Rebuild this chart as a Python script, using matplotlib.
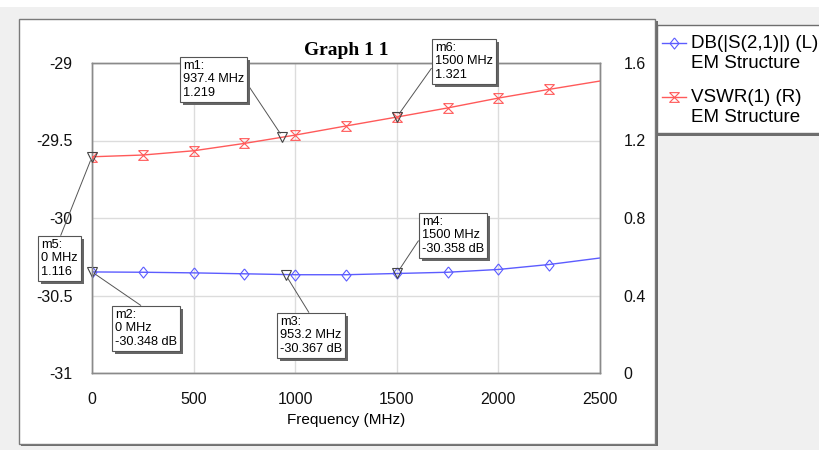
import numpy as np
import matplotlib.pyplot as plt
from matplotlib.patches import Rectangle
from matplotlib.lines import Line2D
from matplotlib.ticker import FuncFormatter
import matplotlib.patheffects as pe

plt.rcParams['font.family'] = ['Liberation Sans', 'DejaVu Sans']
plt.rcParams['axes.unicode_minus'] = False

# sweep points (MHz) and traces
freq = [0, 250, 500, 750, 1000, 1250, 1500, 1750, 2000, 2250, 2500]
s21_db = [-30.348, -30.350, -30.354, -30.360, -30.366, -30.366, -30.358,
          -30.350, -30.332, -30.300, -30.258]
vswr = [1.116, 1.125, 1.147, 1.185, 1.228, 1.275, 1.321, 1.368, 1.419,
        1.464, 1.507]

# markers: name, freq, value
markers_vswr = [("m1", 937.4, 1.219), ("m6", 1500, 1.321), ("m5", 0, 1.116)]
markers_db = [("m2", 0, -30.348), ("m3", 953.2, -30.367), ("m4", 1500, -30.358)]

W, H = 820, 450
blue = '#5c5cff'
red = '#ff5a5a'
hourglass = [(-1, 1), (1, 1), (-1, -1), (1, -1), (-1, 1)]
diamond = [(0, 1), (0.8, 0), (0, -1), (-0.8, 0), (0, 1)]


def fx(x):
    return x / W


def fy(y):
    return 1 - y / H


fig = plt.figure(figsize=(W / 100, H / 100), dpi=100, facecolor='#f0f0f0')


def panel(x0, y0, x1, y1, face, edge, lw=1):
    fig.patches.append(Rectangle((fx(x0), fy(y1)), (x1 - x0) / W,
                                 (y1 - y0) / H, transform=fig.transFigure,
                                 facecolor=face, edgecolor=edge, lw=lw,
                                 zorder=-5))


# white strip on top, graph panel and legend panel with shadows
panel(0, 0, W, 7, 'white', 'none', 0)
panel(21, 21, 658, 446, '#6e6e6e', 'none', 0)
panel(19, 19, 655, 444, 'white', '#7a7a7a')
panel(657, 28, 830, 136, '#6e6e6e', 'none', 0)
panel(657, 25, 830, 133, 'white', '#6e6e6e')

ax = fig.add_axes([fx(92), fy(373), 508 / W, 310 / H])
ax.set_facecolor('white')
ax2 = ax.twinx()

ax.plot(freq, s21_db, color=blue, lw=1, marker=diamond, ms=8, mfc='none',
        mec=blue, mew=0.8, markevery=list(range(10)), zorder=3)
ax2.plot(freq, vswr, color=red, lw=1, marker=hourglass, ms=7, mfc='none',
         mec=red, mew=0.8, markevery=list(range(10)), zorder=3)

ax.set_xlim(0, 2500)
ax.set_ylim(-31, -29)
ax2.set_ylim(0, 1.6)
ax.set_xticks([0, 500, 1000, 1500, 2000, 2500])
ax.set_yticks([-31, -30.5, -30, -29.5, -29])
ax2.set_yticks([0, 0.4, 0.8, 1.2, 1.6])
fmt = FuncFormatter(lambda v, p: '%g' % v)
ax.yaxis.set_major_formatter(fmt)
ax2.yaxis.set_major_formatter(fmt)
ax.grid(True, color='#dcdcdc', lw=1)
ax.set_axisbelow(True)

for a in (ax, ax2):
    a.tick_params(length=0, labelsize=11.5, colors='#111111')
    for s in a.spines.values():
        s.set_color('#8a8a8a')
        s.set_linewidth(1)
ax.tick_params(axis='y', pad=14)
ax.tick_params(axis='x', pad=14)
ax2.tick_params(axis='y', pad=17)

ax.set_xlabel('Frequency (MHz)', fontsize=11, labelpad=4)
ax.set_title('Graph 1 1', fontfamily='Liberation Serif', fontweight='bold',
             fontsize=14, pad=6)

# marker readouts
box = dict(boxstyle='square,pad=0.25', facecolor='white', edgecolor='#555555',
           lw=0.8)
arrow = dict(arrowstyle='-', color='#555555', lw=0.7, shrinkA=0, shrinkB=3)
box_pos = {"m1": ((180, 57), (1, 0.5)), "m6": ((432, 39), (0, 0.45)),
           "m5": ((38, 236), (0.5, 1)), "m2": ((112, 306), (0.5, 1)),
           "m3": ((277, 313), (0.5, 1)), "m4": ((419, 213), (0, 0.5))}


def readout(axis, name, f, v, unit):
    axis.plot([f], [v], marker='v', ms=7, mfc='none', mec='#444444', mew=0.8,
              zorder=5, clip_on=False)
    (bx, by), rel = box_pos[name]
    txt = '%s:\n%g MHz\n%s' % (name, f, unit % v)
    t = axis.annotate(txt, xy=(f, v), xycoords='data',
                      xytext=(bx + 3, H - by - 3), textcoords='figure pixels',
                      ha='left', va='top', fontsize=9.2, linespacing=1.15,
                      bbox=box, arrowprops=dict(arrow, relpos=rel), zorder=6,
                      annotation_clip=False)
    t.get_bbox_patch().set_path_effects(
        [pe.SimplePatchShadow(offset=(2, -2), shadow_rgbFace='#666666',
                              alpha=1), pe.Normal()])


for name, f, v in markers_vswr:
    readout(ax2, name, f, v, '%.3f')
for name, f, v in markers_db:
    readout(ax, name, f, v, '%.3f dB')

# legend
entries = [(43, blue, diamond, 8, 'DB(|S(2,1)|) (L)'),
           (97, red, hourglass, 7, 'VSWR(1) (R)')]
for y, c, m, ms, label in entries:
    fig.lines.append(Line2D([fx(662), fx(686)], [fy(y), fy(y)], color=c, lw=1,
                            transform=fig.transFigure))
    fig.lines.append(Line2D([fx(674)], [fy(y)], color=c, marker=m, ms=ms,
                            mfc='none', mew=0.8, transform=fig.transFigure))
    fig.text(fx(691), fy(y), label, fontsize=13.5, va='center', ha='left')
    fig.text(fx(691), fy(y + 21), 'EM Structure', fontsize=13.5, va='center',
             ha='left')

fig.savefig('out.png', dpi=100, facecolor=fig.get_facecolor())
